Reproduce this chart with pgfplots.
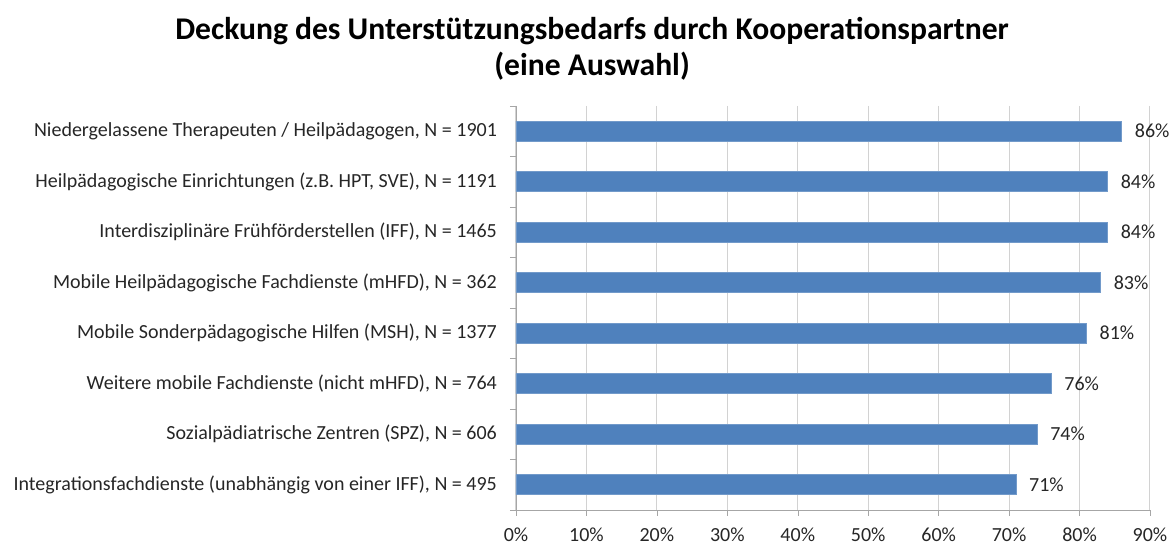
\documentclass[border=0pt]{standalone}
\usepackage{pgfplots}
\pgfplotsset{compat=1.18}
\usepackage{fontspec}
\setmainfont{Carlito}
\definecolor{barblue}{HTML}{4F81BD}
\begin{document}
\begin{tikzpicture}
\begin{axis}[
  name=ax,
  scale only axis,
  width=317pt, height=202pt,
  xbar, bar width=10pt,
  xmin=0, xmax=90,
  ymin=-0.5, ymax=7.5,
  y dir=reverse,
  axis x line*=bottom, axis y line*=left,
  axis line style={draw=gray!70},
  xtick={0,10,...,90},
  xticklabel={\pgfmathprintnumber{\tick}\%},
  /pgf/number format/assume math mode=true,
  xmajorgrids, grid style={draw=gray!35, line width=0.5pt},
  ytick={0,...,7},
  yticklabels={
    {Niedergelassene Therapeuten / Heilpädagogen, N = 1901},
    {Heilpädagogische Einrichtungen (z.B. HPT, SVE), N = 1191},
    {Interdisziplinäre Frühförderstellen (IFF), N = 1465},
    {Mobile Heilpädagogische Fachdienste (mHFD), N = 362},
    {Mobile Sonderpädagogische Hilfen (MSH), N = 1377},
    {Weitere mobile Fachdienste (nicht mHFD), N = 764},
    {Sozialpädiatrische Zentren (SPZ), N = 606},
    {Integrationsfachdienste (unabhängig von einer IFF), N = 495}},
  minor ytick={-0.5,0.5,...,7.5},
  major tick length=3pt,
  minor tick length=3pt,
  tick align=outside,
  major x tick style={draw=gray!70},
  major y tick style={draw=none},
  minor y tick style={draw=gray!70},
  ticklabel style={font=\fontsize{10}{12}\selectfont, text=black!85},
  yticklabel style={xshift=-3pt},
  xticklabel style={yshift=-2.5pt},
  nodes near coords={\pgfmathprintnumber{\pgfplotspointmeta}\%},
  nodes near coords style={font=\fontsize{10}{12}\selectfont, text=black!85, xshift=3pt},
  clip=false,
]
\addplot[fill=barblue, draw=barblue!80!white] coordinates {
  (86,0) (84,1) (84,2) (83,3) (81,4) (76,5) (74,6) (71,7)
};
\node[anchor=south, align=center, font=\bfseries\fontsize{15.8}{18}\selectfont]
  at (rel axis cs:0.12,1) [yshift=9.5pt]
  {Deckung des Unterstützungsbedarfs durch Kooperationspartner\\(eine Auswahl)};
\end{axis}
\pgfresetboundingbox
\path ([xshift=-258pt,yshift=-20pt]ax.south west) rectangle ([xshift=11pt,yshift=53pt]ax.north east);
\end{tikzpicture}
\end{document}
